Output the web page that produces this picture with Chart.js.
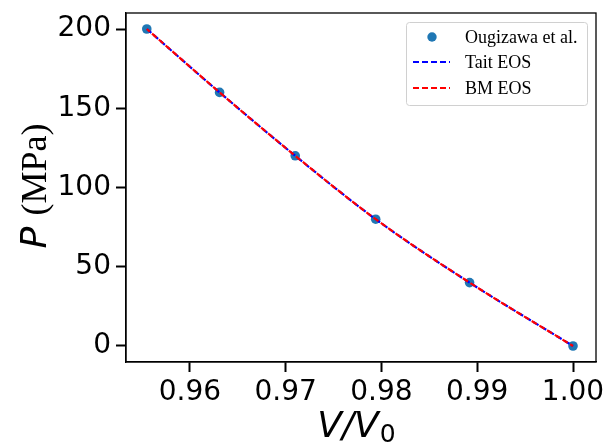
<!DOCTYPE html>
<html>
<head>
<meta charset="utf-8">
<script src="https://cdn.jsdelivr.net/npm/chart.js@4.4.1/dist/chart.umd.min.js"></script>
<style>
  html, body { margin: 0; padding: 0; background: #fff; }
  #wrap { width: 608px; height: 442px; }
</style>
</head>
<body>
<div id="wrap"><canvas id="chart" width="608" height="442"></canvas></div>
<script>
// measured points (V/V0, P in MPa)
const volRatio = [0.9555, 0.9631, 0.9710, 0.9794, 0.9892, 1.0000];
const pressure = [200, 160, 120, 80, 40, 0];

// fitted curves, read at the same volumes
const taitP = [200, 160, 120, 80, 40, 0];
const bmP = [200, 160, 120, 80, 40, 0];

const xTicks = [0.96, 0.97, 0.98, 0.99, 1.00];
const yTicks = [0, 50, 100, 150, 200];

const labels = ["Ougizawa et al.", "Tait EOS", "BM EOS"];

const ctx = document.getElementById("chart");

function pts(xs, ys) {
  return xs.map((x, i) => ({ x: x, y: ys[i] }));
}

// frame, legend and axis titles
const extras = {
  id: "extras",
  afterDraw(chart) {
    const c = chart.ctx;
    const a = chart.chartArea;
    c.save();
    c.strokeStyle = "#000";
    c.lineWidth = 1.3;
    c.strokeRect(a.left, a.top, a.right - a.left, a.bottom - a.top);

    // legend box
    const bx = 406, by = 22, bw = 181, bh = 83;
    c.fillStyle = "rgba(255,255,255,0.8)";
    c.strokeStyle = "#d0d0d0";
    c.lineWidth = 1;
    c.beginPath();
    c.roundRect(bx + 0.5, by + 0.5, bw, bh, 3);
    c.fill();
    c.stroke();

    const rows = [37, 62, 88];
    c.fillStyle = "#1f77b4";
    c.beginPath();
    c.arc(432, rows[0], 4.7, 0, Math.PI * 2);
    c.fill();
    const cols = ["#0000ff", "#ff0000"];
    for (let i = 0; i < 2; i++) {
      c.strokeStyle = cols[i];
      c.lineWidth = 2;
      c.setLineDash([6, 3]);
      c.beginPath();
      c.moveTo(413, rows[i + 1]);
      c.lineTo(450, rows[i + 1]);
      c.stroke();
    }
    c.setLineDash([]);
    c.fillStyle = "#000";
    c.font = "18px 'Liberation Serif'";
    c.textBaseline = "middle";
    for (let i = 0; i < 3; i++) {
      c.fillText(chart.data.datasets[i].label, 465, rows[i] + 1);
    }

    // y title: P (MPa)
    c.save();
    c.translate(46, 186);
    c.rotate(-Math.PI / 2);
    c.textBaseline = "alphabetic";
    c.font = "italic 36px 'DejaVu Sans'";
    const wP = c.measureText("P ").width;
    c.font = "36px 'Liberation Serif'";
    const wM = c.measureText("(MPa)").width;
    let sx = -(wP + wM) / 2;
    c.font = "italic 36px 'DejaVu Sans'";
    c.fillText("P", sx, 0);
    c.font = "36px 'Liberation Serif'";
    c.fillText("(MPa)", sx + wP, 0);
    c.restore();

    // x title: V/V0
    c.font = "italic 36px 'DejaVu Sans'";
    const w1 = c.measureText("V/V").width;
    c.font = "25px 'DejaVu Sans'";
    const w2 = c.measureText("0").width;
    let tx = 356 - (w1 + w2) / 2;
    c.textBaseline = "alphabetic";
    c.font = "italic 36px 'DejaVu Sans'";
    c.fillText("V/V", tx, 437);
    c.font = "25px 'DejaVu Sans'";
    c.fillText("0", tx + w1 + 1, 442);
    c.restore();
  }
};

new Chart(ctx, {
  type: "scatter",
  data: {
    datasets: [
      {
        label: labels[0],
        data: pts(volRatio, pressure),
        pointRadius: 4.8,
        pointHoverRadius: 4.8,
        backgroundColor: "#1f77b4",
        borderWidth: 0,
        order: 3,
      },
      {
        label: labels[1],
        type: "line",
        data: pts(volRatio, taitP),
        borderColor: "#0000ff",
        borderWidth: 2.2,
        borderDash: [6, 3],
        pointRadius: 0,
        cubicInterpolationMode: "monotone",
        fill: false,
        order: 2,
      },
      {
        label: labels[2],
        type: "line",
        data: pts(volRatio, bmP),
        borderColor: "#ff0000",
        borderWidth: 2.2,
        borderDash: [6, 3],
        borderDashOffset: 2,
        pointRadius: 0,
        cubicInterpolationMode: "monotone",
        fill: false,
        order: 1,
      },
    ],
  },
  options: {
    responsive: false,
    animation: false,
    layout: { padding: { top: 13, right: 12, left: 0, bottom: 0 } },
    plugins: {
      legend: { display: false },
      tooltip: { enabled: false },
    },
    scales: {
      x: {
        type: "linear",
        min: 0.95333,
        max: 1.0024,
        afterBuildTicks: (s) => { s.ticks = xTicks.map((v) => ({ value: v })); },
        afterFit: (s) => {
          s.height = 80;
          s.paddingLeft = 0;
          s.paddingRight = 0;
        },
        grid: {
          drawOnChartArea: false,
          drawTicks: true,
          tickLength: 10,
          tickColor: "#000",
          tickWidth: 2,
        },
        border: { color: "#000", width: 1.3 },
        ticks: {
          color: "#000",
          padding: 4,
          font: { family: "DejaVu Sans", size: 28 },
          callback: (v) => v.toFixed(2),
          maxRotation: 0,
        },
      },
      y: {
        type: "linear",
        min: -10.1,
        max: 210.1,
        afterBuildTicks: (s) => { s.ticks = yTicks.map((v) => ({ value: v })); },
        afterFit: (s) => {
          s.width = 126;
          s.paddingTop = 0;
          s.paddingBottom = 0;
        },
        grid: {
          drawOnChartArea: false,
          drawTicks: true,
          tickLength: 10,
          tickColor: "#000",
          tickWidth: 2,
        },
        border: { color: "#000", width: 1.3 },
        ticks: {
          color: "#000",
          padding: 5,
          font: { family: "DejaVu Sans", size: 28 },
        },
      },
    },
  },
  plugins: [extras],
});
</script>
</body>
</html>
